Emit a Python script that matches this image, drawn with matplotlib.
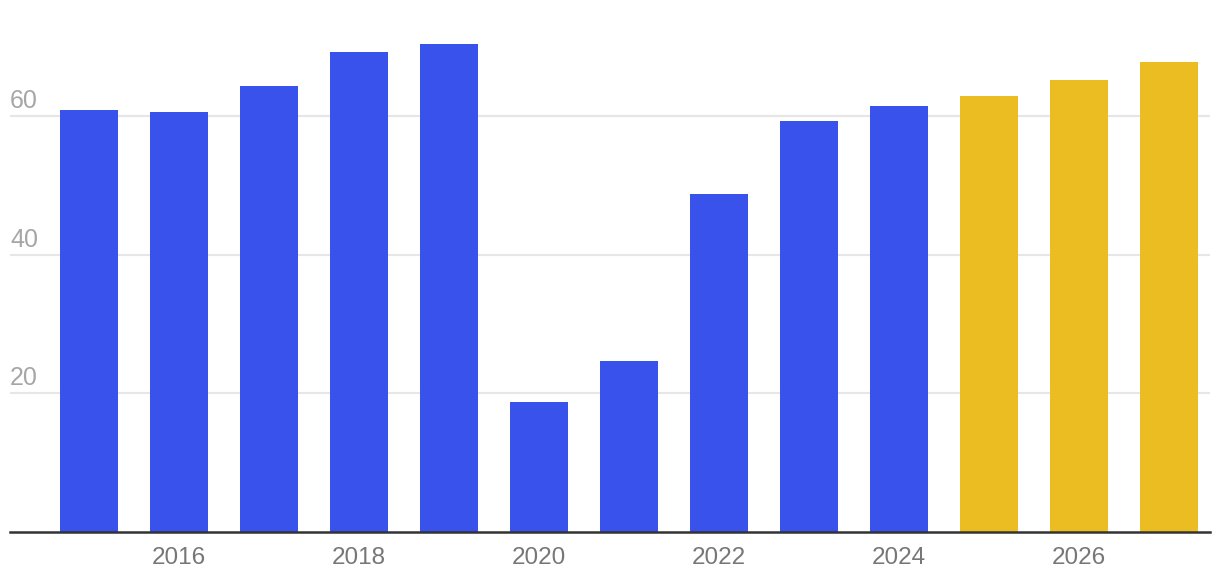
import matplotlib

matplotlib.use("Agg")
import matplotlib.pyplot as plt
import matplotlib.transforms as mtransforms

years = [2015, 2016, 2017, 2018, 2019, 2020, 2021, 2022, 2023, 2024, 2025, 2026, 2027]
values = [60.9, 60.6, 64.4, 69.3, 70.5, 18.8, 24.7, 48.8, 59.4, 61.5, 63.0, 65.3, 67.9]
forecast_from = 2025
y_ticks = [20, 40, 60]
x_ticks = [2016, 2018, 2020, 2022, 2024, 2026]

BLUE = "#3A52EC"
YELLOW = "#EBBD22"

plt.rcParams["font.family"] = ["Liberation Sans", "DejaVu Sans"]

fig = plt.figure(figsize=(12.2, 5.84), dpi=100)
ax = fig.add_axes([10 / 1220, 52 / 584, 1200 / 1220, 532 / 584])

colors = [YELLOW if y >= forecast_from else BLUE for y in years]
ax.bar(years, values, width=0.645, color=colors, zorder=2)

ax.set_xlim(2014.12, 2027.46)
ax.set_ylim(0, 76.8)

# gridlines with labels sitting above them on the left
for v in y_ticks:
    ax.axhline(v, color="#e6e6e6", linewidth=1.5, zorder=1)
    offset = mtransforms.offset_copy(ax.get_yaxis_transform(), fig=fig, x=0, y=6, units="points")
    ax.text(0, v, str(v), transform=offset, ha="left", va="baseline",
            fontsize=18, color="#a6a6a6")

ax.set_yticks([])
ax.set_xticks(x_ticks)
ax.set_xticklabels([str(x) for x in x_ticks], fontsize=17.5, color="#777777")
ax.tick_params(axis="x", length=0, pad=11)

for side in ("top", "right", "left"):
    ax.spines[side].set_visible(False)
ax.spines["bottom"].set_color("#333333")
ax.spines["bottom"].set_linewidth(1.8)
ax.spines["bottom"].set_zorder(3)

fig.savefig("out.png", dpi=100)
